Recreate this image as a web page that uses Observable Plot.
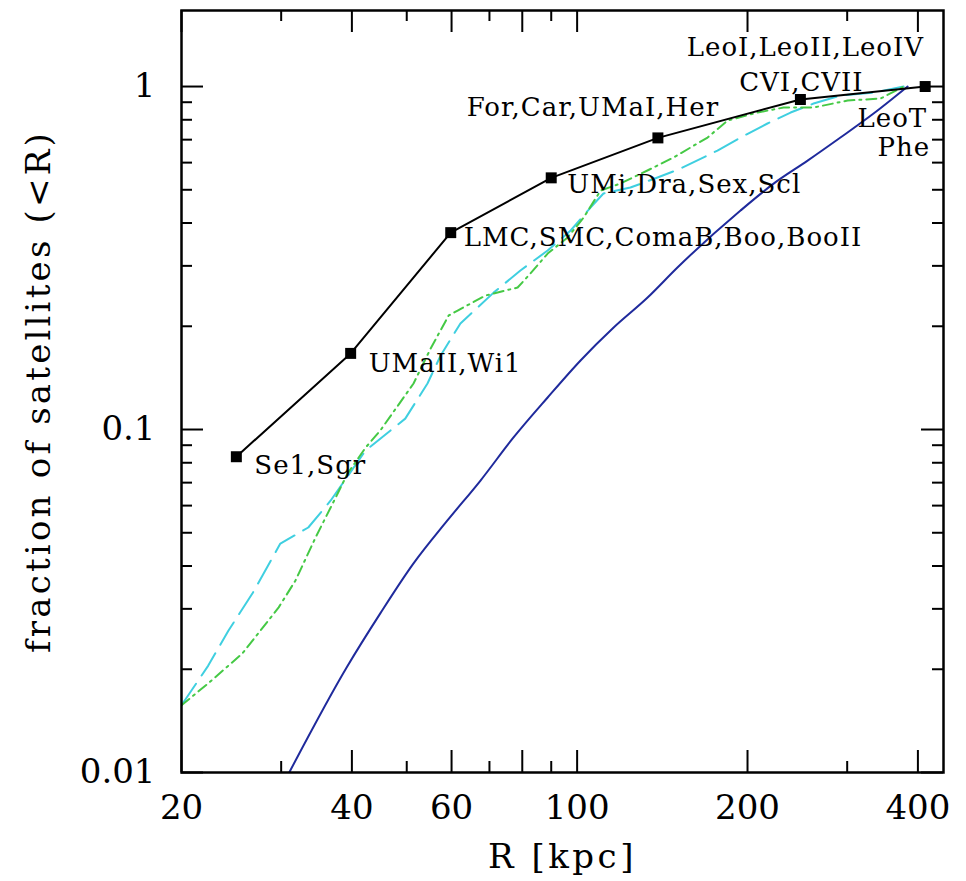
<!DOCTYPE html>
<html>
<head>
<meta charset="utf-8">
<script src="https://cdn.jsdelivr.net/npm/d3@7"></script>
<script src="https://cdn.jsdelivr.net/npm/@observablehq/plot@0.6"></script>
<style>
  html, body { margin: 0; padding: 0; background: #fff; }
  text[aria-label="ylabel"] { letter-spacing: 3.2px; }
  text[aria-label="xlabel"] { letter-spacing: 3.5px; }
  text[aria-label="grouplabel"] { letter-spacing: 1px; }
</style>
</head>
<body>
<div id="chart"></div>
<script>
// ---- data ----
// observed satellites: cumulative fraction within R
const groupR = [25.0, 39.8, 59.8, 90.0, 138.9, 248.0, 412.0];
const groupFrac = [0.0833, 0.1667, 0.375, 0.5417, 0.7083, 0.9167, 1.0];

// group labels (index of the group each label belongs to)
const labelText = ["Se1,Sgr", "UMaII,Wi1", "LMC,SMC,ComaB,Boo,BooII", "UMi,Dra,Sex,Scl",
                   "For,Car,UMaI,Her", "CVI,CVII", "LeoI,LeoII,LeoIV", "LeoT", "Phe"];
const labelGroup = [0, 1, 2, 3, 4, 5, 5, 6, 6];

// blue solid curve
const blueR = [31.0, 39.2, 44.9, 51.4, 59.0, 67.5, 77.2, 88.7, 101.4, 115.9, 133.2, 150.4, 194.4, 222.4, 255.4, 291.9, 334.0, 383.6];
const blueF = [0.0100, 0.0203, 0.0291, 0.0407, 0.0543, 0.0710, 0.0948, 0.124, 0.159, 0.198, 0.2425, 0.2967, 0.435, 0.521, 0.608, 0.710, 0.834, 1.0];

// cyan long-dashed curve
const cyanR = [20.0, 22.3, 24.2, 26.7, 29.9, 33.5, 36.7, 42.3, 49.7, 54.4, 57.4, 62.2, 71.2, 79.4, 88.7, 97.4, 105.6, 111.3, 124.2, 138.7, 152.3, 177.0, 194.4, 216.9, 238.3, 261.7, 292.0, 334.0, 377.4];
const cyanF = [0.0157, 0.0205, 0.0259, 0.0333, 0.0465, 0.0518, 0.0621, 0.0869, 0.1076, 0.1362, 0.1644, 0.2038, 0.2507, 0.2908, 0.3325, 0.3804, 0.4438, 0.4877, 0.5076, 0.5428, 0.5767, 0.6506, 0.7101, 0.7802, 0.8398, 0.8920, 0.9414, 0.9605, 1.0];

// green dash-dot curve
const greenR = [20.0, 22.3, 25.6, 29.7, 31.8, 34.5, 37.0, 39.3, 42.3, 44.9, 51.4, 55.1, 59.3, 61.5, 68.9, 78.5, 82.7, 88.7, 96.2, 102.7, 110.0, 119.3, 133.1, 148.0, 170.0, 184.4, 208.3, 231.6, 261.7, 300.6, 343.7, 377.4];
const greenF = [0.0157, 0.0182, 0.0222, 0.0303, 0.0363, 0.0484, 0.0609, 0.0744, 0.0886, 0.0993, 0.1362, 0.1722, 0.2150, 0.2223, 0.2459, 0.2594, 0.2850, 0.3259, 0.3629, 0.4150, 0.4973, 0.5215, 0.5690, 0.6209, 0.7101, 0.7960, 0.8398, 0.8685, 0.8685, 0.9103, 0.9226, 1.0];

// axes ticks
const xTickLabels = [20, 40, 60, 80, 100, 200, 400];
const xMajorTicks = [20, 40, 60, 80, 100, 200, 400];
const xMinorTicks = [30, 50, 70, 90, 300];
const yTickLabels = [0.01, 0.1, 1];
const yMajorTicks = [0.01, 0.1, 1];
const yMinorTicks = [0.02, 0.03, 0.04, 0.05, 0.06, 0.07, 0.08, 0.09, 0.2, 0.3, 0.4, 0.5, 0.6, 0.7, 0.8, 0.9];

// ---- chart ----
const W = 966, H = 881, mL = 181, mR = 23, mT = 10, mB = 109;
const fw = W - mL - mR, fh = H - mT - mB;
const FONT = "DejaVu Serif";
const rows = (xs, ys) => xs.map((r, i) => ({r, f: ys[i]}));
const groups = rows(groupR, groupFrac);
const lab = i => [{r: groupR[labelGroup[i]], f: groupFrac[labelGroup[i]], t: labelText[i]}];
const labelMark = (i, opts) => Plot.text(lab(i), {x: "r", y: "f", text: "t", fontSize: 26, fontFamily: FONT, fill: "black", ariaLabel: () => "grouplabel", ...opts});

const majorLen = 22, minorLen = 11;

const chart = Plot.plot({
  width: W, height: H,
  marginLeft: mL, marginRight: mR, marginTop: mT, marginBottom: mB,
  style: {fontFamily: FONT, background: "white", color: "black"},
  x: {type: "log", domain: [20, 443.9]},
  y: {type: "log", domain: [0.01, 1.666]},
  marks: [
    // inward ticks on all four sides
    Plot.tickX(xMajorTicks, {x: d => d, insetTop: fh - majorLen, stroke: "black", strokeWidth: 2}),
    Plot.tickX(xMinorTicks, {x: d => d, insetTop: fh - minorLen, stroke: "black", strokeWidth: 2}),
    Plot.tickX(xMajorTicks, {x: d => d, insetBottom: fh - majorLen, stroke: "black", strokeWidth: 2}),
    Plot.tickX(xMinorTicks, {x: d => d, insetBottom: fh - minorLen, stroke: "black", strokeWidth: 2}),
    Plot.tickY(yMajorTicks, {y: d => d, insetRight: fw - majorLen, stroke: "black", strokeWidth: 2}),
    Plot.tickY(yMinorTicks, {y: d => d, insetRight: fw - minorLen, stroke: "black", strokeWidth: 2}),
    Plot.tickY(yMajorTicks, {y: d => d, insetLeft: fw - majorLen, stroke: "black", strokeWidth: 2}),
    Plot.tickY(yMinorTicks, {y: d => d, insetLeft: fw - minorLen, stroke: "black", strokeWidth: 2}),

    Plot.line(rows(blueR, blueF), {x: "r", y: "f", stroke: "#1f2a9c", strokeWidth: 2, curve: "monotone-x", clip: true}),
    Plot.line(rows(cyanR, cyanF), {x: "r", y: "f", stroke: "#3fcfe0", strokeWidth: 2, strokeDasharray: "26,10", clip: true}),
    Plot.line(rows(greenR, greenF), {x: "r", y: "f", stroke: "#45c945", strokeWidth: 2, strokeDasharray: "10,5,2,5", clip: true}),

    Plot.line(groups, {x: "r", y: "f", stroke: "black", strokeWidth: 2}),
    Plot.dot(groups, {x: "r", y: "f", symbol: "square", r: 6.2, fill: "black", stroke: "none"}),

    labelMark(0, {textAnchor: "start", dx: 18, dy: 9}),
    labelMark(1, {textAnchor: "start", dx: 18, dy: 10}),
    labelMark(2, {textAnchor: "start", dx: 13, dy: 5}),
    labelMark(3, {textAnchor: "start", dx: 16, dy: 7}),
    labelMark(4, {textAnchor: "middle", dx: -65, dy: -30}),
    labelMark(5, {textAnchor: "middle", dx: 1, dy: -17}),
    labelMark(6, {textAnchor: "middle", dx: 5, dy: -52}),
    labelMark(7, {textAnchor: "end", dx: 2, dy: 32}),
    labelMark(8, {textAnchor: "end", dx: 5, dy: 61}),

    Plot.frame({stroke: "black", strokeWidth: 2.5}),

    Plot.axisX(xTickLabels, {anchor: "bottom", tickSize: 0, tickPadding: 22, fontSize: 34, fontFamily: FONT, tickFormat: d => String(d), label: null}),
    Plot.axisY(yTickLabels, {anchor: "left", tickSize: 0, tickPadding: 26, fontSize: 34, fontFamily: FONT, tickFormat: d => String(d), label: null}),

    Plot.text(["R [kpc]"], {frameAnchor: "bottom", lineAnchor: "middle", textAnchor: "middle", dy: 85, text: d => d, fontSize: 34, fontFamily: FONT, ariaLabel: () => "xlabel"}),
    Plot.text(["fraction of satellites (<R)"], {frameAnchor: "left", textAnchor: "middle", lineAnchor: "middle", dx: -142, rotate: -90, text: d => d, fontSize: 34, fontFamily: FONT, ariaLabel: () => "ylabel"})
  ]
});
document.getElementById("chart").appendChild(chart);
</script>
</body>
</html>
